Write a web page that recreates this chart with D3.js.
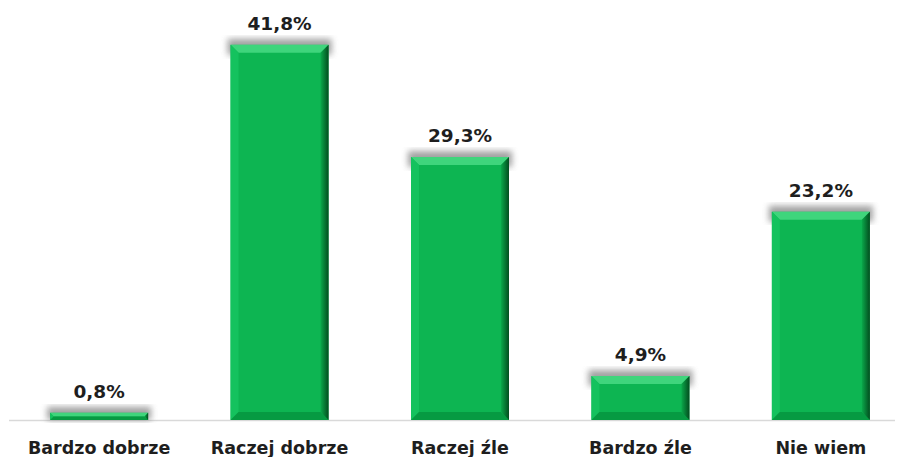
<!DOCTYPE html>
<html>
<head>
<meta charset="utf-8">
<script src="https://cdn.jsdelivr.net/npm/d3@7"></script>
<style>
  body { margin: 0; background: #fff; }
  text { font-family: "DejaVu Sans", Verdana, sans-serif; font-weight: bold; fill: #1e1e1e; }
</style>
</head>
<body>
<div class="chart"></div>
<script>
const categories = ['Bardzo dobrze', 'Raczej dobrze', 'Raczej źle', 'Bardzo źle', 'Nie wiem'];
const values = [0.8, 41.8, 29.3, 4.9, 23.2];
const valueLabels = ['0,8%', '41,8%', '29,3%', '4,9%', '23,2%'];

const width = 897;
const height = 457;
const baseY = 420;

const svg = d3.select('.chart')
    .append('svg')
    .attr('width', width)
    .attr('height', height);

const x = d3.scaleBand()
    .domain(categories)
    .range([9, 911])
    .paddingInner(0.457)
    .paddingOuter(0.228);

const y = d3.scaleLinear()
    .domain([0, 46.8])
    .range([baseY, 0]);

const defs = svg.append('defs');
const blur = defs.append('filter').attr('id', 'shadow')
    .attr('x', '-20%').attr('y', '-20%').attr('width', '140%').attr('height', '140%');
blur.append('feGaussianBlur').attr('stdDeviation', 3);

const rightGrad = defs.append('linearGradient').attr('id', 'rightEdge')
    .attr('x1', 0).attr('x2', 1).attr('y1', 0).attr('y2', 0);
rightGrad.append('stop').attr('offset', 0).attr('stop-color', '#0aa84a');
rightGrad.append('stop').attr('offset', 1).attr('stop-color', '#034d1f');

// axis line
svg.append('line')
    .attr('x1', 9).attr('x2', 895)
    .attr('y1', baseY + 0.5).attr('y2', baseY + 0.5)
    .attr('stroke', '#d9d9d9')
    .attr('stroke-width', 1.5);

const bars = svg.append('g')
    .selectAll('g')
    .data(categories)
    .enter()
    .append('g');

// soft shadow above bars
bars.append('rect')
    .attr('x', d => x(d) - 3)
    .attr('y', (d, i) => y(values[i]) - 6)
    .attr('width', x.bandwidth() + 6)
    .attr('height', (d, i) => Math.min(16, baseY - y(values[i]) + 6))
    .attr('fill', '#8a8a8a')
    .attr('opacity', 0.8)
    .attr('filter', 'url(#shadow)');

bars.append('rect')
    .attr('x', d => x(d))
    .attr('y', (d, i) => y(values[i]))
    .attr('width', x.bandwidth())
    .attr('height', (d, i) => baseY - y(values[i]))
    .attr('fill', '#0db552');

// bevel pieces
function bevel(d, i) {
    const x0 = x(d), x1 = x(d) + x.bandwidth();
    const y0 = y(values[i]), y1 = baseY;
    const b = Math.min(8, (y1 - y0) / 2);
    return {x0, x1, y0, y1, b};
}
bars.append('polygon')
    .attr('points', (d, i) => { const p = bevel(d, i);
        return [[p.x0, p.y0], [p.x1, p.y0], [p.x1 - p.b, p.y0 + p.b], [p.x0 + p.b, p.y0 + p.b]].join(' '); })
    .attr('fill', '#3fd57c');
bars.append('polygon')
    .attr('points', (d, i) => { const p = bevel(d, i);
        return [[p.x0, p.y0], [p.x0 + p.b, p.y0 + p.b], [p.x0 + p.b, p.y1 - p.b], [p.x0, p.y1]].join(' '); })
    .attr('fill', '#14c25e');
bars.append('polygon')
    .attr('points', (d, i) => { const p = bevel(d, i);
        return [[p.x0, p.y1], [p.x0 + p.b, p.y1 - p.b], [p.x1 - p.b, p.y1 - p.b], [p.x1, p.y1]].join(' '); })
    .attr('fill', '#069a42');
bars.append('polygon')
    .attr('points', (d, i) => { const p = bevel(d, i);
        return [[p.x1, p.y0], [p.x1, p.y1], [p.x1 - p.b, p.y1 - p.b], [p.x1 - p.b, p.y0 + p.b]].join(' '); })
    .attr('fill', 'url(#rightEdge)');

// value labels
bars.append('text')
    .attr('x', d => x(d) + x.bandwidth() / 2)
    .attr('y', (d, i) => y(values[i]) - 15)
    .attr('text-anchor', 'middle')
    .attr('font-size', '18.5px')
    .text((d, i) => valueLabels[i]);

// category labels
svg.append('g')
    .selectAll('text')
    .data(categories)
    .enter()
    .append('text')
    .attr('x', d => x(d) + x.bandwidth() / 2)
    .attr('y', 454)
    .attr('text-anchor', 'middle')
    .attr('font-size', '17.5px')
    .text(d => d);
</script>
</body>
</html>
